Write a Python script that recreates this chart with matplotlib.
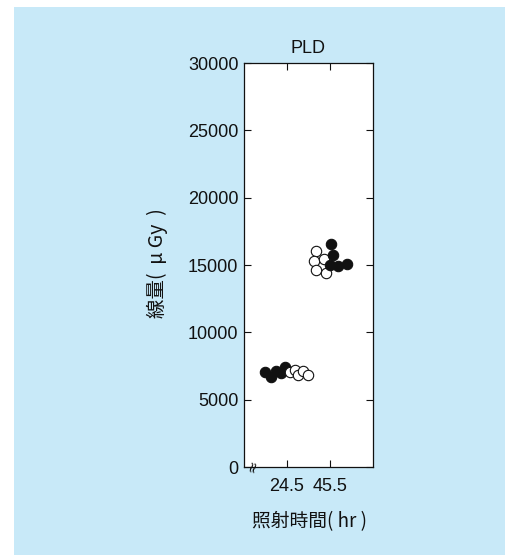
"""PLD dose vs irradiation time, swarm style dot chart."""

import matplotlib
matplotlib.use('Agg')
import matplotlib.pyplot as plt
from matplotlib.patches import Rectangle


# data
time_labels = ['24.5', '45.5']
time_pos = [1, 2]

# 24.5 hr group
filled_245 = [7050, 6650, 7150, 6950, 7450]
filled_245_off = [-0.51, -0.37, -0.26, -0.14, -0.05]
open_245 = [7050, 7200, 6800, 7100, 6800]
open_245_off = [0.07, 0.19, 0.26, 0.37, 0.49]

# 45.5 hr group
open_455 = [16040, 15300, 15450, 14630, 14400]
open_455_off = [-0.33, -0.37, -0.14, -0.33, -0.09]
filled_455 = [16560, 15740, 15000, 14930, 15070]
filled_455_off = [0.02, 0.07, 0.0, 0.19, 0.40]

y_ticks = [0, 5000, 10000, 15000, 20000, 25000, 30000]

BG = '#c8e9f8'
INK = '#111111'

plt.rcParams['font.family'] = ['Liberation Sans', 'Noto Sans CJK JP', 'DejaVu Sans']

fig = plt.figure(figsize=(5.05, 5.55), dpi=100, facecolor='white')
fig.patches.append(Rectangle((14 / 505, 0), 1 - 14 / 505, 1 - 7 / 555,
                             transform=fig.transFigure, facecolor=BG,
                             edgecolor='none', zorder=-10))

ax = fig.add_axes([244 / 505, 1 - 467 / 555, 129 / 505, 404 / 555])
ax.set_facecolor('white')


def _swarm(pos, values, offsets, filled):
    xs = [pos + o for o in offsets]
    ax.scatter(xs, values, s=56, marker='o',
               facecolor=INK if filled else 'white',
               edgecolor=INK, linewidths=0.8, zorder=3, clip_on=False)


_swarm(time_pos[0], filled_245, filled_245_off, True)
_swarm(time_pos[0], open_245, open_245_off, False)
_swarm(time_pos[1], open_455, open_455_off, False)
_swarm(time_pos[1], filled_455, filled_455_off, True)

ax.set_xlim(0, 3)
ax.set_ylim(0, 30000)
ax.set_xticks(time_pos)
ax.set_xticklabels(time_labels)
ax.set_yticks(y_ticks)
ax.set_yticklabels([str(v) for v in y_ticks])

ax.tick_params(axis='both', direction='in', length=5, width=0.8, color=INK,
               labelsize=13, labelcolor=INK, top=True, right=True)
ax.tick_params(axis='x', pad=8)
ax.tick_params(axis='y', pad=4)
for sp in ax.spines.values():
    sp.set_linewidth(0.9)
    sp.set_color(INK)

ax.set_title('PLD', fontsize=13, color=INK, pad=7)

# axis break mark near the origin
ax.text(0.065, 0.002, '≈', rotation=75, fontsize=11, color=INK,
        ha='center', va='center', transform=ax.transAxes,
        family='DejaVu Sans', clip_on=False)

fig.text(157 / 505, 1 - 263 / 555, '線量(  μ Gy  )', rotation=90,
         fontsize=14, color=INK, ha='center', va='center',
         family=['Noto Sans CJK JP', 'DejaVu Sans'])
fig.text(309 / 505, 1 - 522 / 555, '照射時間( hr )',
         fontsize=13.5, color=INK, ha='center', va='center',
         family=['Noto Sans CJK JP', 'DejaVu Sans'])

fig.savefig('out.png', dpi=100, facecolor='white')
